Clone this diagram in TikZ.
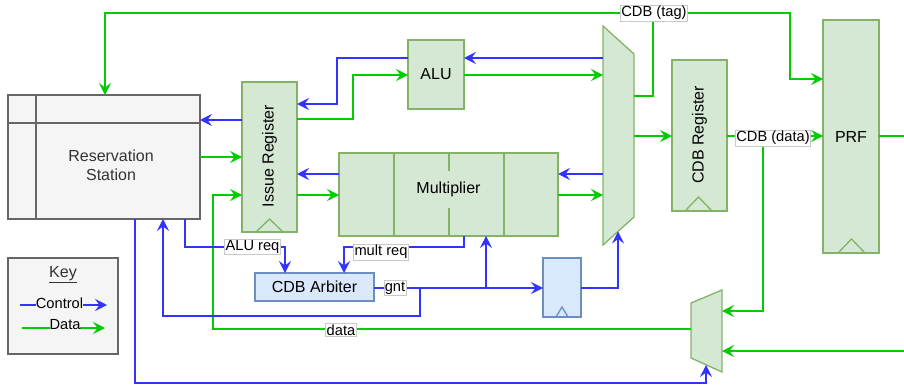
\documentclass[tikz,border=0pt]{standalone}
\usepackage{fontspec}
\setmainfont{Liberation Sans}
\usetikzlibrary{arrows.meta,calc}
\definecolor{gfill}{HTML}{D5E8D4}
\definecolor{gline}{HTML}{82B366}
\definecolor{bfill}{HTML}{DAE8FC}
\definecolor{bline}{HTML}{6C8EBF}
\definecolor{grayfill}{HTML}{F5F5F5}
\definecolor{grayline}{HTML}{666666}
\definecolor{ctl}{HTML}{3333FF}
\definecolor{dat}{HTML}{00CC00}
\definecolor{txtgray}{HTML}{333333}
\definecolor{lblline}{HTML}{C8C8C8}
\begin{document}
\begin{tikzpicture}[x=1pt,y=-1pt,
  every node/.style={inner sep=0pt, outer sep=0pt},
  nfont/.style={font=\fontsize{16}{19}\selectfont},
  gbox/.style={draw=gline, fill=gfill, line width=1.3pt, nfont},
  bbox/.style={draw=bline, fill=bfill, line width=1.3pt, nfont},
  graybox/.style={draw=grayline, fill=grayfill, line width=1.3pt},
  ctlline/.style={draw=ctl, line width=1.3pt},
  datline/.style={draw=dat, line width=1.3pt},
  tip/.style={-{Stealth[length=12pt,width=12pt,inset=4.5pt]}},
  ctlarrow/.style={ctlline, tip},
  datarrow/.style={datline, tip},
  lbl/.style={fill=white, draw=lblline, line width=0.5pt, inner xsep=1pt, inner ysep=1pt, font=\fontsize{14.67}{17}\selectfont},
  clk/.style={draw=gline, line width=1.3pt},
]
\useasboundingbox (0,0) rectangle (904,385);

% ---------- nodes ----------
\node[graybox, minimum width=192pt, minimum height=124pt] (rs) at (104,157) {};
\draw[grayline, line width=1.3pt] (rs.north west -| 36,0) -- (rs.south west -| 36,0);
\draw[grayline, line width=1.3pt] (rs.north west |- 0,123) -- (rs.north east |- 0,123);
\node[nfont, text=txtgray, align=center] (rstext) at (111,165) {Reservation\\Station};

\node[gbox, minimum width=55pt, minimum height=150pt] (ir) at (269.5,157) {};
\node[nfont, rotate=90] (irtext) at (269.5,156) {Issue Register};
\draw[clk] (256,232) -- (269.5,219) -- (283,232);

\node[gbox, minimum width=56pt, minimum height=69pt] (alu) at (436,74.5) {ALU};

\node[gbox, minimum width=219pt, minimum height=83pt] (mult) at (448.5,194.5) {};
\draw[gline, line width=1.3pt] (394,153) -- (394,236);
\draw[gline, line width=1.3pt] (504,153) -- (504,236);
\draw[gline, line width=1.3pt] (449,153) -- (449,171);
\draw[gline, line width=1.3pt] (449,208) -- (449,236);
\node[nfont] (multtext) at (448.5,189.5) {Multiplier};

% mux 1
\node[minimum width=31pt, minimum height=219pt] (mux1) at (618.5,135.5) {};
\draw[gline, fill=gfill, line width=1.3pt] (603,26) -- (634,54) -- (634,217) -- (603,245) -- cycle;
\coordinate (m1sel) at (618,231.5);

\node[gbox, minimum width=55pt, minimum height=151pt] (cdbreg) at (699.5,135.5) {};
\node[nfont, rotate=90] (cdbtext) at (699.5,135) {CDB Register};
\draw[clk] (685,211) -- (698.5,197) -- (712,211);

\node[gbox, minimum width=56pt, minimum height=233pt] (prf) at (851,136.5) {PRF};
\draw[clk] (838,253) -- (851.5,239) -- (865,253);

\node[bbox, minimum width=119pt, minimum height=28pt] (arb) at (314.5,287) {CDB Arbiter};

\node[bbox, minimum width=38pt, minimum height=59pt] (sreg) at (562,287.5) {};
\draw[draw=bline, line width=1.3pt] (556,317) -- (562,307) -- (568,317);

% mux 2
\node[minimum width=31pt, minimum height=82pt] (mux2) at (706.5,331) {};
\draw[gline, fill=gfill, line width=1.3pt] (691,303) -- (722,290) -- (722,372) -- (691,358) -- cycle;
\coordinate (m2sel) at (706,365);

% key
\node[graybox, minimum width=110pt, minimum height=96pt] (key) at (63,306) {};
\node[nfont, text=txtgray] (keytitle) at (63,275) {\underline{Key}};

% ---------- connectors ----------
% CDB tag bus
\coordinate (tagj) at (653,13);
\draw[datarrow] (mux1.east |- 0,96) -| (tagj) -| (rs.north -| 105,0);
\draw[datarrow] (tagj) -| (790,79) -- (prf.west |- 0,79);
\node[lbl] (taglbl) at (654,13) {CDB (tag)};

% RS <-> IR
\draw[ctlarrow] (ir.west |- 0,120) -- (rs.east |- 0,120);
\draw[datarrow] (rs.east |- 0,157) -- (ir.west |- 0,157);

% data from mux2 back to IR
\draw[datarrow] (mux2.west |- 0,329) -| (213,195) -- (ir.west |- 0,195);
\node[lbl] (datalbl) at (341,330) {data};

% IR <-> ALU
\draw[ctlarrow] (alu.west |- 0,58) -| (337,104) -- (ir.east |- 0,104);
\draw[datarrow] (ir.east |- 0,119) -| (353,75) -- (alu.west |- 0,75);
% ALU <-> mux1
\draw[ctlarrow] (mux1.west |- 0,58) -- (alu.east |- 0,58);
\draw[datarrow] (alu.east |- 0,75) -- (mux1.west |- 0,75);
% IR <-> Mult
\draw[ctlarrow] (mult.west |- 0,174) -- (ir.east |- 0,174);
\draw[datarrow] (ir.east |- 0,195) -- (mult.west |- 0,195);
% Mult <-> mux1
\draw[ctlarrow] (mux1.west |- 0,174) -- (mult.east |- 0,174);
\draw[datarrow] (mult.east |- 0,195) -- (mux1.west |- 0,195);

% mux1 -> CDB register -> PRF
\draw[datarrow] (mux1.east |- 0,136) -- (cdbreg.west |- 0,136);
\draw[datarrow] (cdbreg.east |- 0,136) -- (prf.west |- 0,136);
\coordinate (dj) at (763,136);
\draw[datarrow] (dj) |- (mux2.east |- 0,311);
\node[lbl] (datalbl2) at (773,138) {CDB (data)};
\coordinate (prfout) at (904,136);
\draw[datline] (prf.east |- 0,136) -- (prfout);
\coordinate (rin) at (904,351);
\draw[datarrow] (rin) -- (mux2.east |- 0,351);

% bottom select for mux2
\draw[ctlarrow] (rs.south -| 135,0) |- (706,383) -- (m2sel);

% requests
\draw[ctlarrow] (rs.south -| 185,0) |- (285,247) -- (arb.north -| 285,0);
\node[lbl] (alureq) at (252.5,247) {ALU req};
\draw[ctlarrow] (mult.south -| 464,0) |- (344,247) -- (arb.north -| 344,0);
\node[lbl] (multreq) at (381,252) {mult req};

% grant
\draw[ctlarrow] (arb.east |- 0,288) -- (sreg.west |- 0,288);
\coordinate (g1) at (420,288);
\coordinate (g2) at (486,288);
\draw[ctlarrow] (g1) |- (163,316) -- (rs.south -| 163,0);
\draw[ctlarrow] (g2) -- (mult.south -| 486,0);
\node[lbl] (gntlbl) at (395,288) {gnt};
\draw[ctlarrow] (sreg.east |- 0,288) -| (m1sel);

% key entries
\coordinate (kc1) at (20,305);
\coordinate (kc2) at (107,305);
\coordinate (kd1) at (22,328);
\coordinate (kd2) at (105,328);
\draw[ctlarrow] (kc1) -- (kc2);
\node[fill=grayfill, font=\fontsize{14.67}{17}\selectfont] (kctext) at (59.5,303) {Control};
\draw[datarrow] (kd1) -- (kd2);
\node[fill=grayfill, font=\fontsize{14.67}{17}\selectfont] (kdtext) at (65,325) {Data};
\end{tikzpicture}
\end{document}
